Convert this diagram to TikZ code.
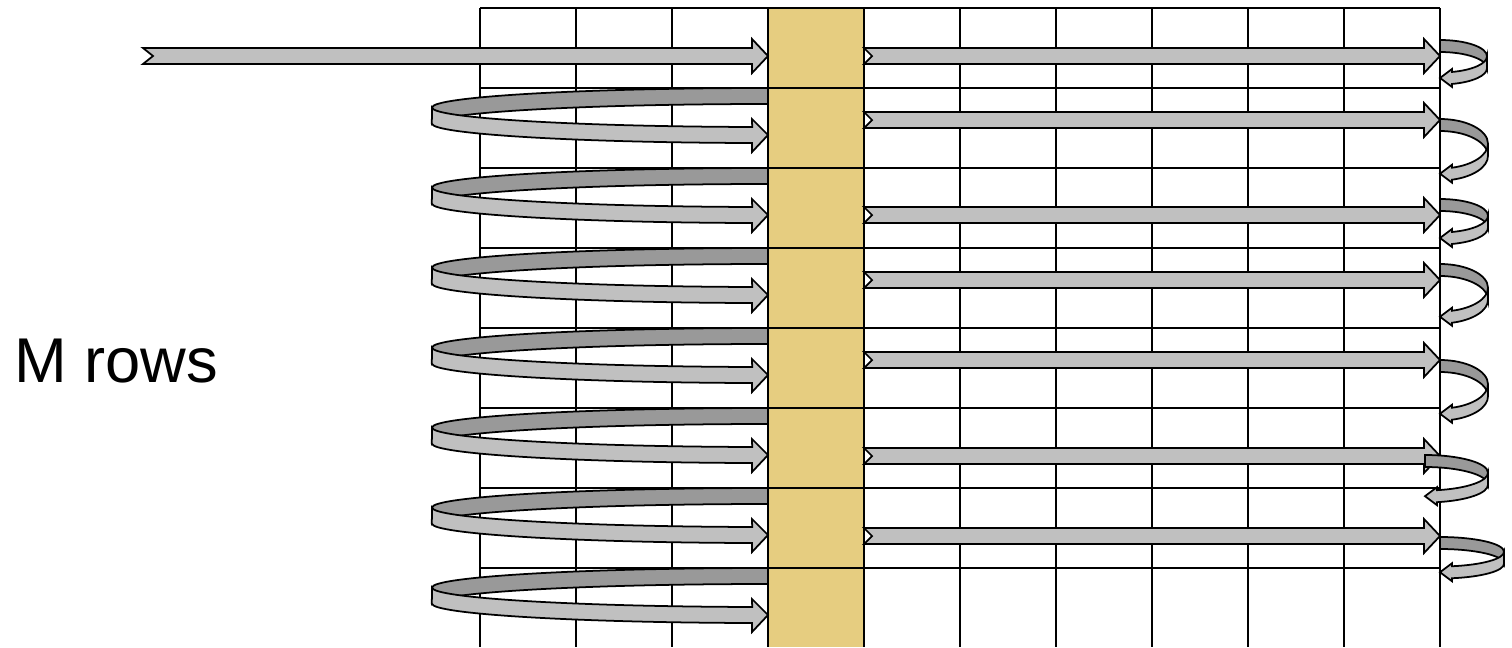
\documentclass[tikz,border=0pt]{standalone}
\usepackage{fontspec}
\setmainfont{Liberation Sans}
\definecolor{blockgold}{RGB}{230,205,128}
\definecolor{backgray}{RGB}{153,153,153}
\definecolor{frontgray}{RGB}{192,192,192}

\begin{document}
\begin{tikzpicture}[x=0.02cm, y=-0.02cm,
  gridline/.style={line width=1.1pt},
  band/.style={draw, line width=1pt, fill=frontgray},
  backband/.style={draw, line width=1pt, fill=backgray},
  rowlabel/.style={font=\fontsize{36}{40}\selectfont, inner sep=0pt}
]
\useasboundingbox (0,0) rectangle (1512,647);

% the block column and the grid
\fill[blockgold] (768,8) rectangle (864,647);
\foreach \x in {480,576,...,1440}
  \draw[gridline] (\x,8) -- (\x,647);
\foreach \y in {8,88,...,568}
  \draw[gridline] (480,\y) -- (1440,\y);

\node[rowlabel, anchor=base west] (mrows) at (14,382) {M rows};

% entry arrow
\draw[band] (143,48) -- (752,48) -- (752,39) -- (768,56) -- (752,73)
  -- (752,64) -- (143,64) -- (153,56) -- cycle;

% straight arrows right of the block
\foreach \c in {56,120,215,280,360,456,536}
  \draw[band] (864,\c-8) -- (1424,\c-8) -- (1424,\c-17) -- (1440,\c)
    -- (1424,\c+17) -- (1424,\c+8) -- (864,\c+8) -- (872,\c) -- cycle;

% loops back to the block
\foreach \t in {88,168,...,568} {
  \draw[backband] (768,\t)
    arc[start angle=-90, end angle=-180, x radius=336, y radius=19.5]
    -- ++(0,16)
    arc[start angle=180, end angle=270, x radius=336, y radius=19.5] -- cycle;
  \draw[band] (432,\t+19.5)
    arc[start angle=180, end angle=92.7, x radius=336, y radius=19.5]
    -- (752,\t+31) -- (768,\t+47) -- (752,\t+64) -- (752,\t+55)
    arc[start angle=92.7, end angle=180, x radius=336, y radius=19.5] -- cycle;
}

% turns at the row ends
\foreach \cx/\cy/\rx/\ry in {1440/56.25/47/16.25, 1440/143.75/48/24.75,
    1440/215.75/48/16.75, 1440/287.75/48/23.75, 1440/384.25/48/24.25,
    1425/472.75/63/17.75, 1440/551.75/64/14.75} {
  \pgfmathsetmacro\e{acos(12/\rx)}
  \pgfmathsetmacro\yy{\cy+\ry*sin(\e)}
  \draw[backband] (\cx,\cy-\ry)
    arc[start angle=-90, end angle=0, x radius=\rx, y radius=\ry]
    -- ++(0,12)
    arc[start angle=0, end angle=-90, x radius=\rx, y radius=\ry] -- cycle;
  \draw[band] (\cx+\rx,\cy)
    arc[start angle=0, end angle=\e, x radius=\rx, y radius=\ry]
    -- (\cx+12,\yy-3) -- (\cx,\yy+6) -- (\cx+12,\yy+15) -- (\cx+12,\yy+12)
    arc[start angle=\e, end angle=0, x radius=\rx, y radius=\ry] -- cycle;
}
\end{tikzpicture}
\end{document}
